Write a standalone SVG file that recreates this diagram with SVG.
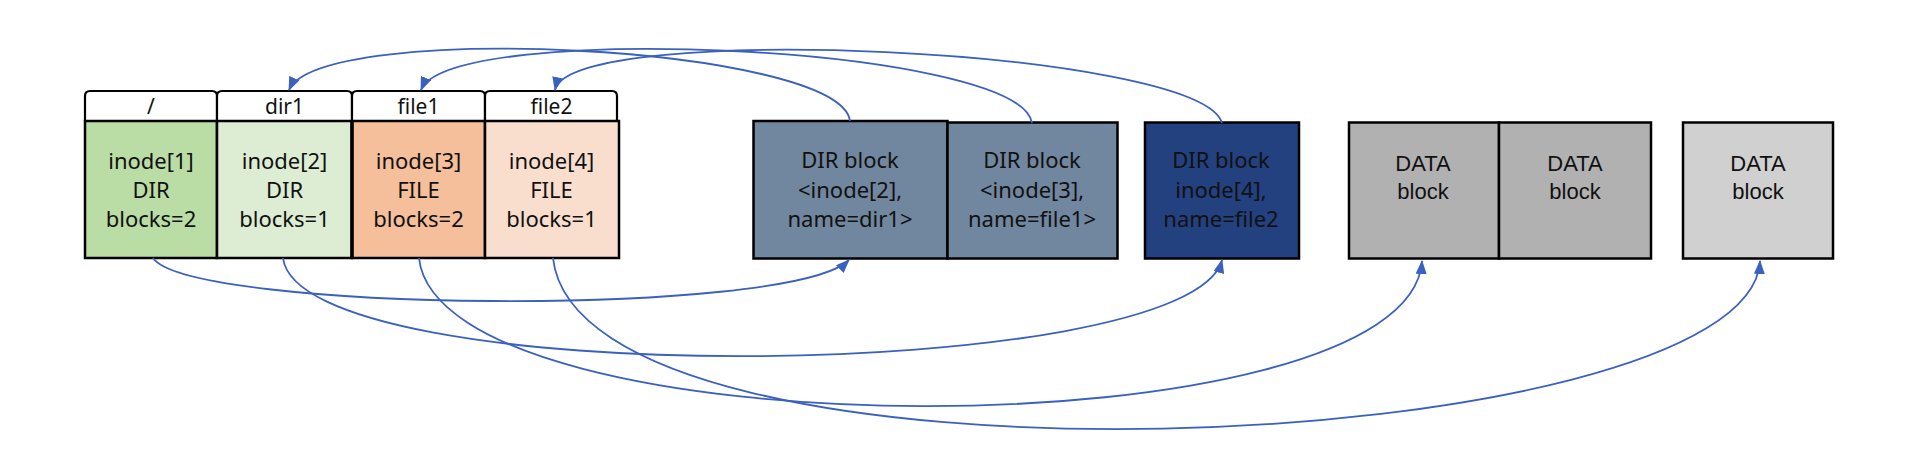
<svg xmlns="http://www.w3.org/2000/svg" width="1918" height="458" viewBox="0 0 1918 458">
<defs>
<style>
.box{stroke:#000;stroke-width:2.5}
.tab{fill:#fff;stroke:#000;stroke-width:2.2}
.t{font-family:"Noto Sans","Liberation Sans",sans-serif;font-size:22px;fill:#111;text-anchor:middle}
.h{font-family:"Noto Sans","Liberation Sans",sans-serif;font-size:21px;fill:#111;text-anchor:middle}
.d{font-family:"Liberation Sans",Arial,sans-serif;font-size:22px;fill:#111;text-anchor:middle}
.c{fill:none;stroke:#3A60C0;stroke-width:1.8;marker-end:url(#arr)}
</style>
<marker id="arr" viewBox="0 0 14 11" refX="13" refY="5.5" markerWidth="14" markerHeight="11" markerUnits="userSpaceOnUse" orient="auto">
<path d="M0,0 L14,5.5 L0,11 z" fill="#3A60C0"/>
</marker>
</defs>
<rect width="1918" height="458" fill="#fff"/>

<g id="inode1">
<path class="tab" d="M85,121 V96 Q85,91 90,91 H212 Q217,91 217,96 V121"/>
<text class="h" x="151" y="114">/</text>
<rect class="box" x="85" y="121" width="132" height="137" fill="#BADCA5"/>
<text class="t" x="151" y="169">inode[1]</text>
<text class="t" x="151" y="198">DIR</text>
<text class="t" x="151" y="227">blocks=2</text>
</g>
<g id="inode2">
<path class="tab" d="M217,121 V96 Q217,91 222,91 H347 Q352,91 352,96 V121"/>
<text class="h" x="284.5" y="114">dir1</text>
<rect class="box" x="217" y="121" width="135" height="137" fill="#DCEDD3"/>
<text class="t" x="284.5" y="169">inode[2]</text>
<text class="t" x="284.5" y="198">DIR</text>
<text class="t" x="284.5" y="227">blocks=1</text>
</g>
<g id="inode3">
<path class="tab" d="M352,121 V96 Q352,91 357,91 H480 Q485,91 485,96 V121"/>
<text class="h" x="418.5" y="114">file1</text>
<rect class="box" x="352" y="121" width="133" height="137" fill="#F5BF9B"/>
<text class="t" x="418.5" y="169">inode[3]</text>
<text class="t" x="418.5" y="198">FILE</text>
<text class="t" x="418.5" y="227">blocks=2</text>
</g>
<g id="inode4">
<path class="tab" d="M485,121 V96 Q485,91 490,91 H612 Q617,91 617,96 V121"/>
<text class="h" x="551.5" y="114">file2</text>
<rect class="box" x="485" y="121" width="134" height="137" fill="#F9DECD"/>
<text class="t" x="551.5" y="169">inode[4]</text>
<text class="t" x="551.5" y="198">FILE</text>
<text class="t" x="551.5" y="227">blocks=1</text>
</g>
<line x1="352" y1="121" x2="352" y2="258" stroke="#000" stroke-width="3.5"/>

<g id="dirblock1">
<rect class="box" x="753.5" y="121" width="194" height="137.5" fill="#71869F"/>
<text class="t" x="850" y="168">DIR block</text>
<text class="t" x="850" y="198">&lt;inode[2],</text>
<text class="t" x="850" y="227">name=dir1&gt;</text>
</g>
<g id="dirblock2">
<rect class="box" x="947.5" y="122.5" width="170" height="136" fill="#71869F"/>
<text class="t" x="1032" y="168">DIR block</text>
<text class="t" x="1032" y="198">&lt;inode[3],</text>
<text class="t" x="1032" y="227">name=file1&gt;</text>
</g>
<g id="dirblock3">
<rect class="box" x="1145" y="122.5" width="154" height="136" fill="#23407F"/>
<text class="t" x="1221" y="168">DIR block</text>
<text class="t" x="1221" y="198">inode[4],</text>
<text class="t" x="1221" y="227">name=file2</text>
</g>

<g id="datablock1">
<rect class="box" x="1349" y="122.5" width="150" height="136" fill="#B1B1B1"/>
<text class="d" x="1423" y="171">DATA</text>
<text class="d" x="1423" y="199">block</text>
</g>
<g id="datablock2">
<rect class="box" x="1499" y="122.5" width="152" height="136" fill="#B1B1B1"/>
<text class="d" x="1575" y="171">DATA</text>
<text class="d" x="1575" y="199">block</text>
</g>
<g id="datablock3">
<rect class="box" x="1683" y="122.5" width="150" height="136" fill="#D0D0D0"/>
<text class="d" x="1758" y="171">DATA</text>
<text class="d" x="1758" y="199">block</text>
</g>

<g id="connectors">
<path class="c" d="M850,121 C840,45 320,20 289,90"/>
<path class="c" d="M1032,123 C1020,45 450,20 421,90"/>
<path class="c" d="M1222,123 C1200,48 570,20 555,90"/>
<path class="c" d="M153,258 C190,312 790,318 849,260"/>
<path class="c" d="M283,258 C300,392 1190,385 1222,260"/>
<path class="c" d="M419,258 C440,455 1410,455 1422,261"/>
<path class="c" d="M553,258 C580,510 1750,460 1760,261"/>
</g>
</svg>
